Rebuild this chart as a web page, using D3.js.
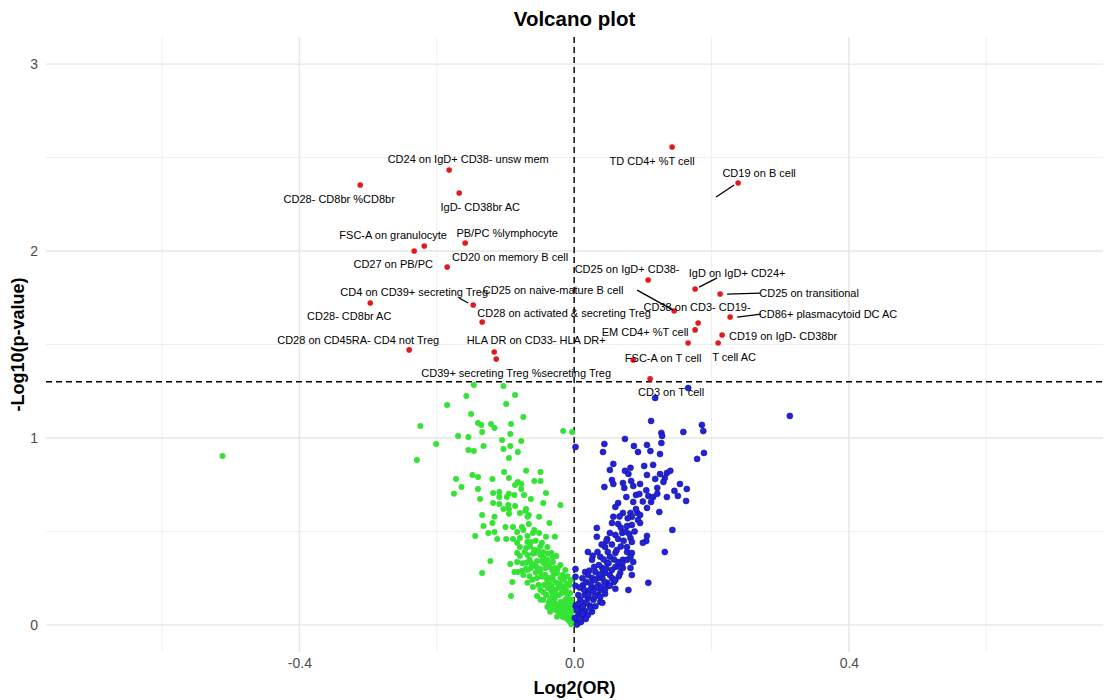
<!DOCTYPE html>
<html>
<head>
<meta charset="utf-8">
<script src="https://cdn.jsdelivr.net/npm/d3@7/dist/d3.min.js"></script>
<style>
  body { margin: 0; background: #fff; }
  svg text { font-family: "Liberation Sans", Arial, sans-serif; }
</style>
</head>
<body>
<div id="chart"></div>
<script>
// significant markers (p < 0.05), with their ggrepel label positions
const sigNames = [
  "TD CD4+ %T cell", "CD19 on B cell", "CD24 on IgD+ CD38- unsw mem", "CD28- CD8br %CD8br",
  "IgD- CD38br AC", "FSC-A on granulocyte", "CD27 on PB/PC", "PB/PC %lymphocyte",
  "CD20 on memory B cell", "CD4 on CD39+ secreting Treg", "CD28- CD8br AC",
  "CD28 on activated & secreting Treg", "CD28 on CD45RA- CD4 not Treg", "HLA DR on CD33- HLA DR+",
  "CD39+ secreting Treg %secreting Treg", "CD25 on IgD+ CD38-", "IgD on IgD+ CD24+",
  "CD25 on transitional", "CD25 on naive-mature B cell", "CD38 on CD3- CD19-", "",
  "CD86+ plasmacytoid DC AC", "CD19 on IgD- CD38br", "T cell AC", "EM CD4+ %T cell",
  "FSC-A on T cell", "CD3 on T cell"
];
const sigX = [0.1426, 0.2387, -0.1820, -0.3115, -0.1674, -0.2183, -0.2329, -0.1587, -0.1849, -0.1470,
  -0.2969, -0.1339, -0.2402, -0.1164, -0.1135, 0.1077, 0.1761, 0.2125, 0.1456, 0.1805, 0.1761,
  0.2271, 0.2154, 0.2096, 0.1659, 0.0859, 0.1106];
const sigY = [2.556, 2.364, 2.433, 2.353, 2.310, 2.027, 2.000, 2.043, 1.914, 1.711,
  1.722, 1.620, 1.471, 1.460, 1.422, 1.845, 1.797, 1.770, 1.679, 1.615, 1.578,
  1.647, 1.551, 1.508, 1.508, 1.417, 1.316];
const labelX = [0.1135, 0.2693, -0.1543, -0.3421, -0.1368, -0.2635, -0.2635, -0.0975, -0.0932, -0.2329,
  -0.3275, -0.0146, -0.3144, -0.0553, -0.0844, 0.0771, 0.2373, 0.3421, -0.0306, 0.1790, 0,
  0.3697, 0.3042, 0.2329, 0.1033, 0.1296, 0.1412];
const labelY = [2.481, 2.417, 2.492, 2.278, 2.235, 2.086, 1.930, 2.096, 1.968, 1.781,
  1.652, 1.668, 1.524, 1.524, 1.348, 1.904, 1.882, 1.775, 1.791, 1.701, 0,
  1.663, 1.545, 1.433, 1.567, 1.428, 1.246];
// leader segments [x1, y1, x2, y2]
const segments = [
  [-0.1674, 1.749, -0.1543, 1.722],
  [0.2067, 2.289, 0.2329, 2.353],
  [0.1820, 1.807, 0.2082, 1.856],
  [0.2227, 1.770, 0.2707, 1.775],
  [0.0917, 1.791, 0.1441, 1.684],
  [0.2373, 1.647, 0.2722, 1.663]
];

// non-significant, negative log2(OR)
const greenPoints = [
  [-0.146,1.283],[-0.103,1.278],[-0.157,1.225],[-0.086,1.230],[-0.185,1.176],[-0.099,1.182],[-0.150,1.128],
  [-0.074,1.112],[-0.224,1.064],[-0.140,1.080],[-0.135,1.070],[-0.121,1.075],[-0.116,1.053],[-0.092,1.075],
  [-0.134,1.032],[-0.093,1.021],[-0.016,1.037],[-0.003,1.032],[-0.169,1.011],[-0.154,1.005],[-0.105,0.989],
  [-0.077,0.984],[-0.201,0.968],[-0.132,0.957],[-0.154,0.936],[-0.146,0.930],[-0.103,0.941],[-0.093,0.957],
  [-0.082,0.925],[-0.095,0.893],[-0.229,0.882],[-0.102,0.818],[-0.070,0.824],[-0.049,0.818],[-0.148,0.802],
  [-0.140,0.791],[-0.172,0.781],[-0.119,0.781],[-0.095,0.786],[-0.082,0.765],[-0.086,0.749],[-0.077,0.754],
  [-0.058,0.770],[-0.049,0.770],[-0.164,0.738],[-0.140,0.727],[-0.077,0.727],[-0.175,0.701],[-0.137,0.674],
  [-0.118,0.706],[-0.109,0.684],[-0.098,0.684],[-0.095,0.701],[-0.087,0.695],[-0.073,0.695],[-0.118,0.652],
  [-0.109,0.647],[-0.096,0.642],[-0.086,0.636],[-0.063,0.674],[-0.045,0.652],[-0.020,0.642],[-0.070,0.620],
  [-0.109,0.711],[-0.041,0.706],[-0.071,0.610],[-0.103,0.620],[-0.095,0.620],[-0.079,0.599],[-0.066,0.588],
  [-0.134,0.588],[-0.116,0.578],[-0.051,0.578],[-0.119,0.545],[-0.132,0.529],[-0.100,0.524],[-0.089,0.524],
  [-0.076,0.524],[-0.074,0.508],[-0.083,0.497],[-0.066,0.540],[-0.058,0.508],[-0.036,0.545],[-0.144,0.476],
  [-0.116,0.497],[-0.112,0.460],[-0.099,0.460],[-0.089,0.460],[-0.079,0.465],[-0.041,0.471],[-0.028,0.471],
  [-0.068,0.578],[-0.095,0.594],[-0.125,0.492],[-0.068,0.476],[-0.060,0.492],[-0.051,0.492],[-0.083,0.439],
  [-0.068,0.444],[-0.063,0.444],[-0.047,0.439],[-0.079,0.417],[-0.070,0.412],[-0.058,0.401],[-0.049,0.422],
  [-0.039,0.417],[-0.083,0.385],[-0.079,0.369],[-0.068,0.374],[-0.057,0.385],[-0.049,0.374],[-0.045,0.390],
  [-0.122,0.342],[-0.093,0.326],[-0.083,0.337],[-0.070,0.332],[-0.063,0.332],[-0.054,0.342],[-0.047,0.342],
  [-0.039,0.348],[-0.031,0.337],[-0.134,0.278],[-0.087,0.283],[-0.076,0.289],[-0.068,0.294],[-0.063,0.305],
  [-0.055,0.310],[-0.049,0.283],[-0.042,0.305],[-0.032,0.294],[-0.028,0.305],[-0.090,0.230],[-0.068,0.225],
  [-0.061,0.241],[-0.054,0.251],[-0.047,0.257],[-0.039,0.230],[-0.031,0.241],[-0.020,0.251],[-0.015,0.241],
  [-0.092,0.155],[-0.054,0.155],[-0.045,0.176],[-0.038,0.198],[-0.031,0.176],[-0.023,0.198],[-0.016,0.176],
  [-0.049,0.134],[-0.035,0.134],[-0.028,0.144],[-0.020,0.123],[-0.013,0.134],[-0.009,0.144],[-0.031,0.096],
  [-0.023,0.096],[-0.016,0.091],[-0.010,0.096],[-0.006,0.118],[-0.020,0.064],[-0.013,0.064],[-0.009,0.053],
  [-0.003,0.037],[-0.006,0.016],[-0.001,0.011],[-0.082,0.283],[-0.074,0.267],[-0.060,0.203],[-0.049,0.187],
  [-0.045,0.134],[-0.039,0.096],[-0.032,0.150],[-0.028,0.107],[-0.023,0.070],[-0.017,0.043],[-0.035,0.070],
  [-0.025,0.043],[-0.009,0.027],[-0.004,0.003],[-0.512,0.904],[-0.042,0.267],[-0.035,0.214],[-0.026,0.225],
  [-0.019,0.209],[-0.012,0.187],[-0.022,0.160],[-0.010,0.160],[-0.004,0.080],[-0.012,0.107],[-0.032,0.118],
  [-0.041,0.160],[-0.036,0.251],[-0.025,0.278],[-0.017,0.267],[-0.052,0.214],[-0.044,0.214],[-0.038,0.321],
  [-0.026,0.369],[-0.033,0.385],[-0.020,0.321],[-0.013,0.294],[-0.007,0.214],[-0.004,0.134],[-0.007,0.070],
  [-0.065,0.350],[-0.058,0.320],[-0.050,0.300],[-0.044,0.330],[-0.036,0.310],[-0.030,0.270],[-0.024,0.300],
  [-0.047,0.260],[-0.056,0.280],[-0.040,0.250],[-0.033,0.210],[-0.027,0.190],[-0.021,0.220],[-0.015,0.200],
  [-0.011,0.220],[-0.018,0.170],[-0.026,0.160],[-0.033,0.180],[-0.040,0.160],[-0.037,0.120],[-0.029,0.120],
  [-0.022,0.110],[-0.016,0.120],[-0.011,0.110],[-0.006,0.090],[-0.013,0.080],[-0.019,0.090],[-0.027,0.080],
  [-0.008,0.050],[-0.014,0.040],[-0.005,0.060],[-0.002,0.020],[-0.060,0.380],[-0.052,0.400],[-0.045,0.360],
  [-0.038,0.380],[-0.031,0.360],[-0.064,0.420],[-0.072,0.390],[-0.056,0.450],[-0.075,0.330],[-0.065,0.260],
  [-0.070,0.300],[-0.010,0.260],[-0.006,0.170],[-0.005,0.240]
];

// non-significant, positive log2(OR)
const bluePoints = [
  [0.118,1.214],[0.166,1.267],[0.112,1.091],[0.314,1.118],[0.186,1.070],[0.188,1.037],[0.159,1.032],
  [0.127,1.027],[0.128,1.011],[0.002,0.952],[0.044,0.968],[0.042,0.925],[0.074,0.995],[0.087,0.957],
  [0.093,0.925],[0.106,0.963],[0.111,0.930],[0.127,0.973],[0.125,0.914],[0.179,0.888],[0.189,0.920],
  [0.057,0.861],[0.052,0.829],[0.074,0.824],[0.082,0.840],[0.079,0.807],[0.102,0.850],[0.115,0.856],
  [0.106,0.802],[0.125,0.807],[0.135,0.813],[0.140,0.824],[0.132,0.786],[0.055,0.775],[0.057,0.754],
  [0.044,0.738],[0.071,0.759],[0.083,0.770],[0.073,0.733],[0.086,0.743],[0.096,0.754],[0.118,0.781],
  [0.130,0.765],[0.121,0.733],[0.154,0.754],[0.164,0.727],[0.146,0.717],[0.151,0.690],[0.163,0.663],
  [0.135,0.684],[0.108,0.690],[0.115,0.684],[0.121,0.701],[0.090,0.695],[0.076,0.684],[0.086,0.658],
  [0.112,0.658],[0.064,0.652],[0.060,0.631],[0.071,0.599],[0.057,0.578],[0.082,0.599],[0.084,0.578],
  [0.092,0.599],[0.096,0.588],[0.093,0.561],[0.106,0.626],[0.124,0.604],[0.055,0.545],[0.064,0.540],
  [0.077,0.529],[0.084,0.535],[0.096,0.545],[0.033,0.519],[0.143,0.508],[0.052,0.492],[0.070,0.492],
  [0.060,0.481],[0.033,0.471],[0.106,0.476],[0.064,0.460],[0.082,0.465],[0.048,0.460],[0.080,0.487],
  [0.047,0.449],[0.105,0.449],[0.100,0.439],[0.084,0.444],[0.077,0.417],[0.045,0.417],[0.020,0.390],
  [0.132,0.390],[0.049,0.390],[0.060,0.385],[0.077,0.390],[0.084,0.385],[0.026,0.348],[0.038,0.364],
  [0.052,0.364],[0.064,0.337],[0.071,0.348],[0.082,0.364],[0.086,0.337],[0.048,0.332],[0.041,0.305],
  [0.060,0.310],[0.071,0.305],[0.082,0.305],[0.031,0.283],[0.045,0.278],[0.052,0.267],[0.067,0.278],
  [0.084,0.267],[0.026,0.251],[0.041,0.251],[0.058,0.230],[0.108,0.225],[0.035,0.214],[0.049,0.209],
  [0.060,0.193],[0.079,0.187],[0.026,0.198],[0.019,0.176],[0.035,0.160],[0.045,0.166],[0.006,0.160],
  [0.020,0.144],[0.028,0.134],[0.038,0.123],[0.016,0.118],[0.023,0.102],[0.009,0.091],[0.016,0.075],
  [0.026,0.070],[0.006,0.053],[0.013,0.043],[0.020,0.053],[0.004,0.027],[0.006,0.011],[0.001,0.037],
  [0.016,0.283],[0.013,0.214],[0.041,0.118],[0.048,0.225],[0.067,0.310],[0.077,0.348],[0.002,0.299],
  [0.002,0.257],[0.002,0.209],[0.002,0.102],[0.020,0.267],[0.009,0.134],[0.015,0.160],[0.023,0.187],
  [0.004,0.002],[0.010,0.016],[0.017,0.032],[0.038,0.187],[0.044,0.230],[0.006,0.112],[0.035,0.251],
  [0.042,0.294],[0.055,0.294],
  [0.012,0.250],[0.018,0.230],[0.024,0.220],[0.030,0.240],[0.032,0.200],[0.040,0.200],[0.028,0.180],
  [0.021,0.160],[0.030,0.150],[0.038,0.150],[0.045,0.190],[0.052,0.210],[0.055,0.250],[0.060,0.240],
  [0.065,0.260],[0.070,0.330],[0.058,0.350],[0.062,0.400],[0.068,0.420],[0.072,0.450],[0.055,0.430],
  [0.050,0.330],[0.043,0.350],[0.036,0.320],[0.029,0.310],[0.022,0.290],[0.014,0.190],[0.010,0.070],
  [0.013,0.100],[0.018,0.120],[0.024,0.090],[0.031,0.100],[0.008,0.035],[0.012,0.060],[0.004,0.080],
  [0.008,0.200],[0.075,0.500],[0.068,0.520],[0.088,0.500],[0.090,0.620],[0.078,0.570],[0.066,0.580],
  [0.100,0.660],[0.105,0.720],[0.095,0.700],[0.047,0.300],[0.038,0.270],[0.034,0.390],[0.040,0.430],
  [0.027,0.370]
];

const xTicks = [-0.4, 0, 0.4];
const xMinor = [-0.6, -0.2, 0.2, 0.6];
const yTicks = [0, 1, 2, 3];
const yMinor = [0.5, 1.5, 2.5];
const pThreshold = -Math.log10(0.05);

const W = 1111, H = 700;
const margin = { top: 37, right: 8, bottom: 48, left: 46 };
const width = W - margin.left - margin.right;
const height = H - margin.top - margin.bottom;

const x = d3.scaleLinear().domain([-0.769, 0.770]).range([0, width]);
const y = d3.scaleLinear().domain([-0.145, 3.145]).range([height, 0]);

const svg = d3.select("#chart").append("svg")
  .attr("width", W)
  .attr("height", H);

const g = svg.append("g")
  .attr("transform", `translate(${margin.left},${margin.top})`);

// grid
g.append("g").selectAll("line").data(xMinor).join("line")
  .attr("x1", d => x(d)).attr("x2", d => x(d))
  .attr("y1", 0).attr("y2", height)
  .attr("stroke", "#ebebeb").attr("stroke-width", 0.8);
g.append("g").selectAll("line").data(yMinor).join("line")
  .attr("x1", 0).attr("x2", width)
  .attr("y1", d => y(d)).attr("y2", d => y(d))
  .attr("stroke", "#ebebeb").attr("stroke-width", 0.8);
g.append("g").selectAll("line").data(xTicks).join("line")
  .attr("x1", d => x(d)).attr("x2", d => x(d))
  .attr("y1", 0).attr("y2", height)
  .attr("stroke", "#e6e6e6").attr("stroke-width", 1.4);
g.append("g").selectAll("line").data(yTicks).join("line")
  .attr("x1", 0).attr("x2", width)
  .attr("y1", d => y(d)).attr("y2", d => y(d))
  .attr("stroke", "#e6e6e6").attr("stroke-width", 1.4);

// axes (labels only, like theme_minimal)
const xAxis = g.append("g")
  .attr("transform", `translate(0,${height})`)
  .call(d3.axisBottom(x).tickValues(xTicks).tickSize(0).tickPadding(6)
    .tickFormat(d => d3.format(".1f")(d).replace("−", "-")));
const yAxis = g.append("g")
  .call(d3.axisLeft(y).tickValues(yTicks).tickSize(0).tickPadding(8).tickFormat(d3.format("d")));
[xAxis, yAxis].forEach(a => {
  a.select(".domain").remove();
  a.selectAll("text")
    .attr("fill", "#4d4d4d")
    .style("font-size", "14px")
    .style("font-family", "'Liberation Sans', Arial, sans-serif");
});

// threshold lines
g.append("line")
  .attr("x1", x(0)).attr("x2", x(0))
  .attr("y1", 0).attr("y2", height)
  .attr("stroke", "#000").attr("stroke-width", 1.4)
  .attr("stroke-dasharray", "6,4");
g.append("line")
  .attr("x1", 0).attr("x2", width)
  .attr("y1", y(pThreshold)).attr("y2", y(pThreshold))
  .attr("stroke", "#000").attr("stroke-width", 1.4)
  .attr("stroke-dasharray", "6,4");

// points
g.append("g").selectAll("circle").data(greenPoints).join("circle")
  .attr("cx", d => x(d[0])).attr("cy", d => y(d[1]))
  .attr("r", 3)
  .attr("fill", "#35e335");
g.append("g").selectAll("circle").data(bluePoints).join("circle")
  .attr("cx", d => x(d[0])).attr("cy", d => y(d[1]))
  .attr("r", 3)
  .attr("fill", "#2222dd")
  .attr("stroke", "#15158e").attr("stroke-width", 0.6);

const sig = sigNames.map((n, i) => ({ name: n, x: sigX[i], y: sigY[i], lx: labelX[i], ly: labelY[i] }));

g.append("g").selectAll("circle").data(sig).join("circle")
  .attr("cx", d => x(d.x)).attr("cy", d => y(d.y))
  .attr("r", 2.8)
  .attr("fill", "#e3191c");

// label leaders
g.append("g").selectAll("line").data(segments).join("line")
  .attr("x1", d => x(d[0])).attr("y1", d => y(d[1]))
  .attr("x2", d => x(d[2])).attr("y2", d => y(d[3]))
  .attr("stroke", "#000").attr("stroke-width", 1.3);

g.append("g").selectAll("text").data(sig.filter(d => d.name !== "")).join("text")
  .attr("x", d => x(d.lx)).attr("y", d => y(d.ly))
  .attr("text-anchor", "middle")
  .attr("dominant-baseline", "central")
  .style("font-size", "11px")
  .attr("fill", "#000")
  .text(d => d.name);

// titles
svg.append("text")
  .attr("x", margin.left + width / 2).attr("y", 26)
  .attr("text-anchor", "middle")
  .style("font-size", "20.5px").style("font-weight", "bold")
  .text("Volcano plot");
svg.append("text")
  .attr("x", margin.left + width / 2).attr("y", 688)
  .attr("text-anchor", "middle").attr("dominant-baseline", "central")
  .style("font-size", "18px").style("font-weight", "bold")
  .text("Log2(OR)");
svg.append("text")
  .attr("transform", `translate(18,${margin.top + height / 2}) rotate(-90)`)
  .attr("text-anchor", "middle").attr("dominant-baseline", "central")
  .style("font-size", "18px").style("font-weight", "bold")
  .text("-Log10(p-value)");
</script>
</body>
</html>
